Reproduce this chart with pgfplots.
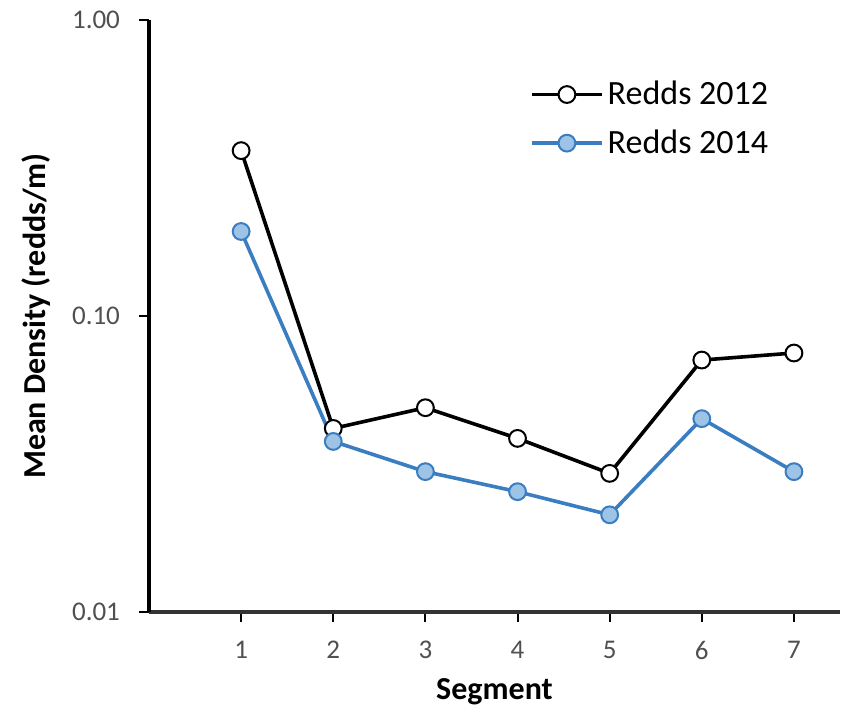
\documentclass[border=0pt]{standalone}
\usepackage{pgfplots}
\pgfplotsset{compat=1.18}
\usepackage{fontspec}
\setmainfont{Carlito}
\definecolor{bline}{HTML}{3A7DC0}
\definecolor{bfill}{HTML}{9DC3E6}
\definecolor{tickgray}{HTML}{505050}
\begin{document}
\begin{tikzpicture}
\begin{axis}[
  scale only axis,
  width=345.5pt, height=296pt,
  ymode=log,
  ymin=0.01, ymax=1,
  xmin=0, xmax=7.5,
  xtick={1,2,3,4,5,6,7},
  ytick={0.01,0.1,1},
  yticklabels={0.01,0.10,1.00},
  minor tick length=0pt,
  axis x line*=bottom,
  axis y line*=left,
  x axis line style={line width=1.6pt, color=black!80, -},
  y axis line style={line width=1.6pt, color=black, -},
  tick align=outside,
  major tick length=5pt,
  every tick/.style={black, line width=1pt},
  /pgf/number format/assume math mode=true,
  ticklabel style={font=\fontsize{13.5}{15}\selectfont, text=tickgray},
  xticklabel style={yshift=-6pt},
  yticklabel style={xshift=-6pt},
  xlabel={\textbf{Segment}},
  ylabel={\textbf{Mean Density (redds/m)}},
  label style={font=\fontsize{16}{18}\selectfont},
  xlabel style={yshift=-2.5pt},
  ylabel style={yshift=4pt},
  legend style={at={(0.551,0.904)}, anchor=north west, draw=none, fill=none,
    font=\fontsize{17}{19}\selectfont, row sep=7pt, inner sep=0pt},
  legend cell align=left,
  legend image code/.code={
    \draw[#1, mark repeat=2, mark phase=2] plot coordinates {(0pt,0pt) (17.5pt,0pt) (35pt,0pt)};
  },
]
\addplot[black, line width=1.8pt, mark=*, mark options={fill=white, draw=black, line width=1pt}, mark size=4.2pt]
  coordinates {(1,0.362) (2,0.0417) (3,0.049) (4,0.0386) (5,0.0294) (6,0.071) (7,0.075)};
\addlegendentry{Redds 2012}
\addplot[bline, line width=1.8pt, mark=*, mark options={fill=bfill, draw=bline, line width=1pt}, mark size=4.2pt]
  coordinates {(1,0.193) (2,0.0377) (3,0.0298) (4,0.0255) (5,0.0213) (6,0.045) (7,0.0298)};
\addlegendentry{Redds 2014}
\end{axis}
\path (current axis.south west) ++(-74.5pt,-49.5pt) coordinate (bbA);
\path (current axis.north east) ++(4pt,10pt) coordinate (bbB);
\path (bbA) rectangle (bbB);
\end{tikzpicture}
\end{document}
